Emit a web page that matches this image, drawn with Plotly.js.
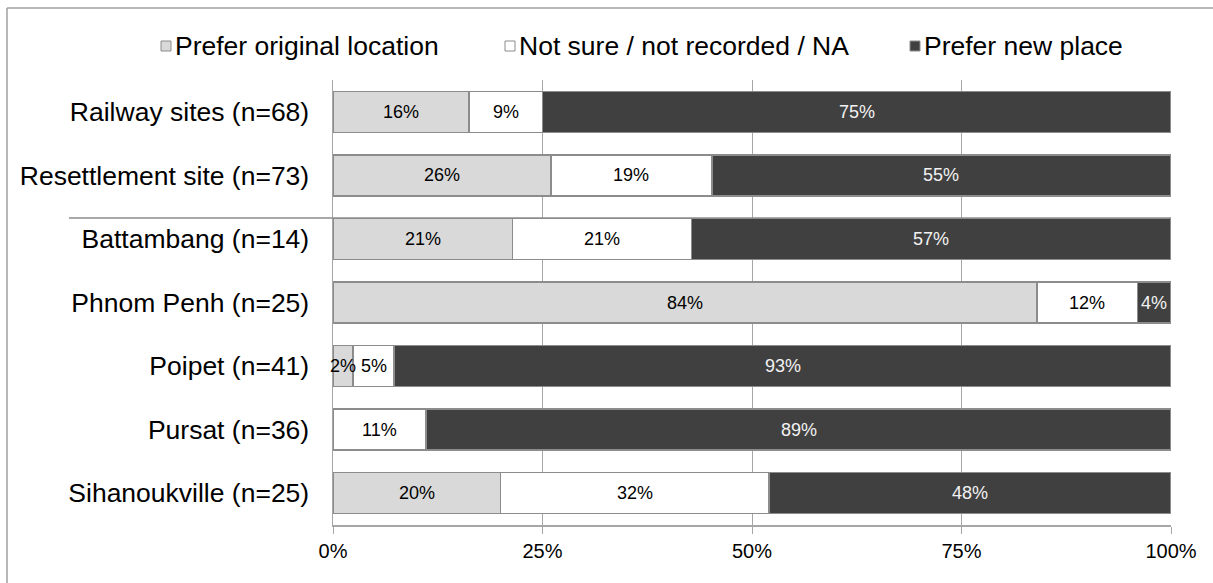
<!DOCTYPE html>
<html>
<head>
<meta charset="utf-8">
<script src="https://cdn.plot.ly/plotly-3.0.1.min.js"></script>
<style>
  html, body { margin: 0; padding: 0; background: #ffffff; }
  #chart { width: 1213px; height: 583px; }
</style>
</head>
<body>
<div id="chart"></div>
<script>
// Stated preference for location, share of households (%) by site
const categories = [
  "Railway sites (n=68)",
  "Resettlement site (n=73)",
  "Battambang (n=14)",
  "Phnom Penh (n=25)",
  "Poipet (n=41)",
  "Pursat (n=36)",
  "Sihanoukville (n=25)"
];
const seriesNames = ["Prefer original location", "Not sure / not recorded / NA", "Prefer new place"];
const preferOriginal = [16.2, 26.0, 21.4, 84.0, 2.4, 0, 20.0];
const notSure        = [8.8, 19.2, 21.4, 12.0, 4.9, 11.1, 32.0];
const preferNew      = [75.0, 54.8, 57.2, 4.0, 92.7, 88.9, 48.0];
const tickValues = [0, 25, 50, 75, 100];
const tickLabels = ["0%", "25%", "50%", "75%", "100%"];

// Styling
const FONT = "Liberation Sans, Arial, sans-serif";
const fills = ["#d9d9d9", "#ffffff", "#404040"];
const labelColors = ["#000000", "#000000", "#f2f2f2"];
const edge = "#8c8c8c";
const grid = "#a6a6a6";

// Plot-area geometry in page pixels
const W = 1213, H = 583;
const L = 333, R = 1171, T = 80, B = 525;
const px = v => (v - L) / (R - L);
const py = v => (B - v) / (B - T);

const series = [preferOriginal, notSure, preferNew];

const traces = series.map((vals, i) => ({
  type: "bar",
  orientation: "h",
  name: seriesNames[i],
  y: categories,
  x: vals,
  marker: { color: fills[i], line: { color: edge, width: 1.5 } },
  hoverinfo: "skip",
  showlegend: false
}));

// Value labels centred in each segment, positioned from the stacked values
const annotations = [];
categories.forEach((cat, r) => {
  let start = 0;
  series.forEach((vals, i) => {
    const v = vals[r];
    if (v > 0) {
      annotations.push({
        x: start + v / 2, y: cat, xref: "x", yref: "y",
        text: Math.round(v) + "%", showarrow: false,
        font: { family: FONT, size: 18, color: labelColors[i] }
      });
    }
    start += v;
  });
});

// Legend row across the top
const legendX = [161, 505, 910];
const legendY = 46;
const box = 10;
const shapes = [];
seriesNames.forEach((name, i) => {
  shapes.push({
    type: "rect", xref: "paper", yref: "paper",
    x0: px(legendX[i]), x1: px(legendX[i] + box),
    y0: py(legendY + box / 2), y1: py(legendY - box / 2),
    fillcolor: fills[i], line: { color: edge, width: 1 }
  });
  annotations.push({
    xref: "paper", yref: "paper",
    x: px(legendX[i] + box + 2), y: py(legendY),
    xanchor: "left", yanchor: "middle",
    text: name, showarrow: false,
    font: { family: FONT, size: 26.5, color: "#000000" }
  });
});

// Outer frame (top and left edges)
shapes.push({ type: "line", xref: "paper", yref: "paper",
  x0: px(7), x1: px(W + 10), y0: py(8), y1: py(8),
  line: { color: "#a0a0a0", width: 1.5 } });
shapes.push({ type: "line", xref: "paper", yref: "paper",
  x0: px(7), x1: px(7), y0: py(8), y1: py(H + 10),
  line: { color: "#a0a0a0", width: 1.5 } });

// Divider between the pooled rows and the individual sites
shapes.push({ type: "line", xref: "paper", yref: "y",
  x0: px(69), x1: 1, y0: 1.67, y1: 1.67,
  line: { color: edge, width: 1.5 } });

const layout = {
  width: W, height: H,
  margin: { l: L, r: W - R, t: T, b: H - B, pad: 0 },
  paper_bgcolor: "#ffffff",
  plot_bgcolor: "#ffffff",
  barmode: "stack",
  bargap: 0.355,
  showlegend: false,
  font: { family: FONT, color: "#000000" },
  xaxis: {
    range: [0, 100],
    tickvals: tickValues,
    ticktext: tickLabels,
    showgrid: true, gridcolor: grid, gridwidth: 1,
    zeroline: false,
    showline: true, linecolor: grid, linewidth: 1.5,
    ticks: "outside", ticklen: 7, tickcolor: grid, tickwidth: 1,
    tickfont: { family: FONT, size: 20, color: "#000000" },
    fixedrange: true
  },
  yaxis: {
    type: "category",
    autorange: "reversed",
    showgrid: false, zeroline: false,
    showline: true, linecolor: grid, linewidth: 1.5,
    ticks: "",
    ticklabelstandoff: 17,
    tickfont: { family: FONT, size: 26.5, color: "#000000" },
    fixedrange: true
  },
  annotations: annotations,
  shapes: shapes
};

Plotly.newPlot("chart", traces, layout, { displayModeBar: false, staticPlot: true });
</script>
</body>
</html>
